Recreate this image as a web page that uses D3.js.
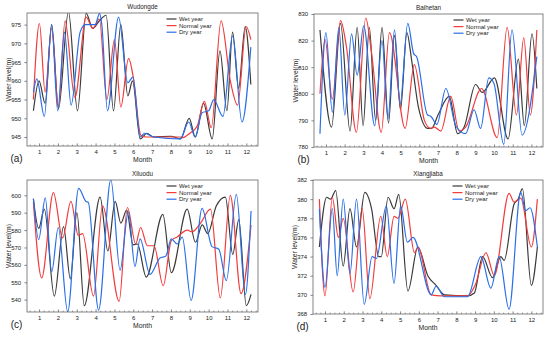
<!DOCTYPE html>
<html>
<head>
<meta charset="utf-8">
<script src="https://cdn.jsdelivr.net/npm/d3@7"></script>
<style>
  body { margin: 0; background: #fff; }
  text { font-family: "Liberation Sans", Arial, sans-serif; fill: #222; }
</style>
</head>
<body>
<svg id="chart" width="550" height="337"></svg>
<script>
const months = [1, 2, 3, 4, 5, 6, 7, 8, 9, 10, 11, 12];
const seriesNames = ['Wet year', 'Normal year', 'Dry year'];
const seriesColors = ['#3a3a3a', '#f23b3b', '#2a6fe8'];
const stations = ['Wudongde', 'Baihetan', 'Xiluodu', 'Xiangjiaba'];
const panelTags = ['(a)', '(b)', '(c)', '(d)'];

const yTicksA = [945, 950, 955, 960, 965, 970, 975];
const yTicksB = [780, 790, 800, 810, 820, 830];
const yTicksC = [540, 550, 560, 570, 580, 590, 600];
const yTicksD = [368, 370, 372, 374, 376, 378, 380, 382];

// [month, water level] (turning points)
const wetA = [[0.7,952],[1.0,960],[1.32,954],[1.67,975],[2.03,952.5],[2.56,978.5],[3.04,952],[3.5,978],[3.85,974],[4.2,976],[4.56,977.5],[4.95,952],[5.34,975],[5.71,956],[5.96,960],[6.37,944.5],[6.72,946],[7.08,945],[8.0,945.2],[8.5,944.5],[8.97,950],[9.29,945],[9.73,954],[10.19,944.5],[10.6,968],[10.97,952],[11.27,973],[11.59,958],[11.94,974.5],[12.24,959]];
const normalA = [[0.7,955],[1.02,975.3],[1.32,957],[1.67,974],[2.03,953],[2.38,976],[2.9,955.5],[3.5,977],[3.85,974],[4.2,976.5],[4.6,955],[5.0,971],[5.34,953],[5.75,966],[6.0,961],[6.4,945.5],[6.7,945],[8.5,945],[8.6,944.8],[9.0,946],[9.4,948],[9.77,954.5],[10.14,947.5],[10.66,976],[11.15,960],[11.54,953.5],[11.99,974.5],[12.24,971]];
const dryA = [[0.7,957],[0.88,960.5],[1.28,950.5],[1.67,975],[1.99,952],[2.35,973],[2.7,953.5],[3.18,973],[3.45,975],[3.98,975],[4.21,978],[4.33,975],[4.63,952],[5.22,977],[5.71,959.5],[5.98,961],[6.37,945],[6.6,946],[7.1,945],[8.5,944.5],[8.94,949],[9.29,945],[9.65,951.5],[10.0,952],[10.27,955],[10.76,950.5],[11.27,972],[11.77,949],[12.24,969]];

const wetB = [[0.68,824],[1.3,787.5],[1.78,826.5],[2.29,786],[2.67,825],[2.99,788],[3.32,825],[3.66,790],[4.0,825],[4.35,789],[4.67,822],[4.99,794],[5.33,823],[5.6,812],[5.95,795],[6.45,787],[6.65,787],[7.0,792],[7.6,799],[8.05,785],[8.4,787.5],[9.01,803.5],[9.37,800.5],[10.02,806],[10.75,783],[11.3,813],[11.62,788],[12.03,822.5],[12.29,802]];
const normalB = [[0.68,800],[0.95,820.5],[1.34,798],[1.78,827.5],[2.1,817.5],[2.63,785.5],[3.13,828.5],[3.43,816],[3.96,785.5],[4.4,823],[5.24,787],[5.73,811],[6.27,790],[6.6,787],[6.8,787.5],[7.15,786],[7.68,799],[8.13,786],[8.48,787.5],[9.33,802],[10.17,783.5],[10.7,825],[11.2,792],[11.59,821],[11.94,792],[12.29,824]];
const dryB = [[0.68,785],[1.0,823],[1.34,793],[1.69,825],[2.01,792],[2.37,822.5],[2.67,807],[3.02,825.5],[3.61,788],[4.0,820],[4.32,790.5],[4.67,824],[4.97,796],[5.38,826.5],[5.7,815],[5.85,814],[6.44,792],[6.62,791.5],[6.94,788.5],[7.42,802],[7.95,788],[8.48,785],[8.93,794],[9.28,787],[9.72,806],[9.99,804],[10.52,781],[10.96,824],[11.5,784.5],[12.29,814]];

const wetC = [[0.7,598],[0.98,581],[1.28,592],[1.81,542],[2.3,582],[2.66,552],[3.01,590],[3.4,536.5],[4.24,599],[4.65,568],[5.04,596.5],[5.34,584],[5.65,591.5],[5.99,571.5],[6.22,572],[6.69,553],[7.57,589],[8.02,555.5],[8.86,592],[9.3,573],[9.66,583],[9.95,578],[10.41,594],[10.89,599],[11.28,566],[11.6,586],[12.0,536.5],[12.25,543]];
const normalC = [[0.7,596],[1.14,552.5],[1.76,601.5],[2.25,575.5],[2.69,596.5],[3.08,577],[3.31,578],[3.89,542],[4.37,594],[5.25,539],[5.69,593],[6.13,572],[6.39,581.5],[6.75,571],[7.1,571],[7.59,548],[8.02,574],[8.33,576],[8.86,580],[9.13,579],[9.57,584],[10.1,592],[10.62,541],[11.15,600],[11.72,543.5],[12.25,583]];
const dryC = [[0.7,598],[0.98,574.5],[1.33,598.5],[1.67,556],[2.02,581.5],[2.52,533],[3.1,604],[3.49,596.5],[3.61,596],[4.16,534],[4.81,609],[5.3,557],[5.74,590.5],[6.09,559],[6.36,575],[6.89,554.5],[7.42,564],[7.72,565],[8.02,575],[8.33,572],[8.6,576],[9.07,539.5],[9.65,592.5],[10.18,570.5],[10.54,569],[10.94,551],[11.47,600.5],[11.95,543],[12.25,591]];

const wetD = [[0.7,375],[1.09,380.2],[1.3,380],[1.57,380.9],[1.97,373],[2.33,379],[2.68,375],[3.12,380.7],[3.48,379],[3.86,374],[4.0,374],[4.36,380.2],[4.68,379],[4.93,380.5],[5.42,370.4],[5.95,375],[6.48,372],[6.92,371],[7.37,370],[8.6,369.9],[8.96,370.2],[9.4,374],[9.93,371.8],[10.37,374],[10.55,373.6],[11.08,379.5],[11.3,380],[11.52,381.1],[12.0,371],[12.32,375]];
const normalD = [[0.7,380],[1.0,369.9],[1.39,380.2],[1.71,376],[1.97,378],[2.5,370.3],[2.98,379],[3.39,369.6],[3.97,378.2],[4.32,374],[4.68,378.2],[4.89,378],[5.28,380],[5.77,374.4],[5.95,375],[6.66,370],[7.19,369.9],[8.6,369.9],[9.0,371],[9.58,374.4],[10.02,372],[10.81,380.6],[11.08,379.7],[11.43,380.1],[12.0,375],[12.32,380]];
const dryD = [[0.7,379],[1.0,370.8],[1.39,379],[1.65,372],[1.97,380],[2.33,372.2],[2.68,380],[3.09,369],[3.51,374],[3.74,373.8],[4.27,379.3],[4.68,371.2],[5.03,379.3],[5.39,375.5],[5.69,376],[6.66,370],[6.92,370.9],[7.37,369.8],[8.6,369.8],[9.31,374],[9.84,370.7],[10.28,374],[10.81,368.5],[11.43,380.7],[11.7,378.8],[11.93,379.1],[12.32,375]];

// panel boxes
const panels = [
  { x0: 27,  y0: 13,  w: 231, h: 133, yDom: [942.6, 978.1], ticks: yTicksA, data: [wetA, normalA, dryA] },
  { x0: 314, y0: 14,  w: 229, h: 133, yDom: [780, 830],     ticks: yTicksB, data: [wetB, normalB, dryB] },
  { x0: 27,  y0: 180, w: 231, h: 132, yDom: [532.9, 608.8], ticks: yTicksC, data: [wetC, normalC, dryC] },
  { x0: 313, y0: 180, w: 230, h: 134, yDom: [368, 382],     ticks: yTicksD, data: [wetD, normalD, dryD] }
];
const xDom = [0.36, 12.62];

const svg = d3.select('#chart');
svg.append('rect').attr('width', 550).attr('height', 337).attr('fill', '#fff');

panels.forEach((p, k) => {
  const g = svg.append('g').attr('transform', `translate(${p.x0},${p.y0})`);
  const x = d3.scaleLinear().domain(xDom).range([0, p.w]);
  const y = d3.scaleLinear().domain(p.yDom).range([p.h, 0]);

  g.append('clipPath').attr('id', 'clip' + k)
    .append('rect').attr('width', p.w).attr('height', p.h);

  const line = d3.line()
    .x(d => x(d[0]))
    .y(d => y(d[1]))
    .curve(d3.curveMonotoneX);

  g.append('g').attr('clip-path', `url(#clip${k})`)
    .selectAll('path')
    .data(p.data)
    .join('path')
      .attr('d', line)
      .attr('fill', 'none')
      .attr('stroke', (d, i) => seriesColors[i])
      .attr('stroke-width', 1.2);

  // minor ticks on month axis
  const minor = d3.range(0.5, 12.6, 0.25).filter(v => v % 1 !== 0);
  g.append('g')
    .attr('transform', `translate(0,${p.h})`)
    .call(d3.axisBottom(x).tickValues(minor).tickSize(-1.4).tickFormat(''))
    .call(a => a.select('.domain').remove())
    .call(a => a.selectAll('line').attr('stroke', '#555').attr('stroke-width', 0.6));

  g.append('g')
    .attr('transform', `translate(0,${p.h})`)
    .call(d3.axisBottom(x).tickValues(months).tickSize(-2.6).tickPadding(3.7))
    .call(a => a.select('.domain').remove())
    .call(a => a.selectAll('line').attr('stroke', '#555').attr('stroke-width', 0.7))
    .call(a => a.selectAll('text').attr('font-size', 6).attr('fill', '#222'));

  g.append('g')
    .call(d3.axisLeft(y).tickValues(p.ticks).tickSize(2.6).tickPadding(3.2))
    .call(a => a.select('.domain').remove())
    .call(a => a.selectAll('line').attr('stroke', '#555').attr('stroke-width', 0.7))
    .call(a => a.selectAll('text').attr('font-size', 6).attr('fill', '#222'));

  g.append('rect')
    .attr('width', p.w).attr('height', p.h)
    .attr('fill', 'none').attr('stroke', '#666').attr('stroke-width', 0.8);

  g.append('text')
    .attr('x', p.w / 2).attr('y', -4)
    .attr('text-anchor', 'middle').attr('font-size', 6.3)
    .text(stations[k]);

  g.append('text')
    .attr('x', p.w / 2).attr('y', p.h + 16)
    .attr('text-anchor', 'middle').attr('font-size', 6.8)
    .text('Month');

  g.append('text')
    .attr('transform', `translate(-18,${p.h / 2}) rotate(-90)`)
    .attr('text-anchor', 'middle').attr('dy', '0.35em').attr('font-size', 6.8)
    .text('Water level(m)');

  g.append('text')
    .attr('x', -10.5).attr('y', p.h + 15.5)
    .attr('text-anchor', 'middle').attr('font-size', 10)
    .text(panelTags[k]);

  // legend
  const legend = g.append('g').selectAll('g')
    .data(seriesNames)
    .join('g')
      .attr('transform', (d, i) => `translate(139.5,${6 + i * 6.6})`);
  legend.append('line')
    .attr('x1', 0).attr('x2', 10)
    .attr('stroke', (d, i) => seriesColors[i]).attr('stroke-width', 1.2);
  legend.append('text')
    .attr('x', 12.5).attr('y', 2.1)
    .attr('font-size', 6)
    .text(d => d);
});
</script>
</body>
</html>
